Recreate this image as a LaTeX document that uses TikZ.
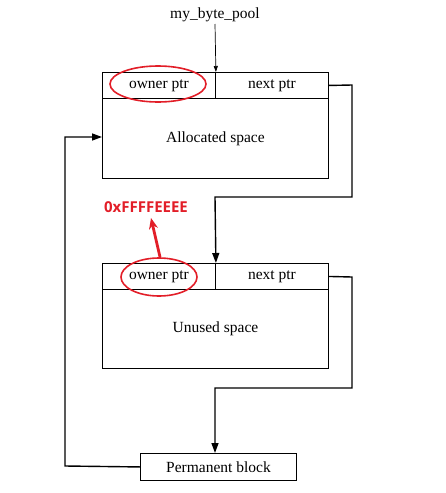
\documentclass[tikz,border=0pt]{standalone}
\usepackage{fontspec}
\setmainfont{Liberation Serif}
\newfontfamily\redfont{Open Sans}
\usetikzlibrary{arrows.meta}
\definecolor{hlred}{RGB}{226,30,40}
\begin{document}
\begin{tikzpicture}[x=1pt,y=-1pt,
  box/.style={draw, line width=0.9pt, inner sep=0pt},
  lbl/.style={font=\fontsize{15.5}{18}\selectfont},
  conn/.style={draw, line width=1.4pt, -{Triangle[length=10pt,width=7pt]}},
  hl/.style={draw=hlred, line width=1.6pt}]
\useasboundingbox (0,0) rectangle (446,493);
% block 1
\node[box, minimum width=113pt, minimum height=26pt, anchor=north west] (o1) at (102,72) {};
\node[box, minimum width=113pt, minimum height=26pt, anchor=north west] (n1) at (215,72) {};
\node[box, minimum width=226pt, minimum height=80pt, anchor=north west] (a1) at (102,98) {};
\node[lbl] at (o1.center) {owner ptr};
\node[lbl] at (n1.center) {next ptr};
\node[lbl] (t1) at (a1.center) {Allocated space};
% block 2
\node[box, minimum width=113pt, minimum height=26pt, anchor=north west] (o2) at (102,263) {};
\node[box, minimum width=113pt, minimum height=26pt, anchor=north west] (n2) at (215,263) {};
\node[box, minimum width=226pt, minimum height=79pt, anchor=north west] (a2) at (102,289) {};
\node[lbl] at (o2.center) {owner ptr};
\node[lbl] at (n2.center) {next ptr};
\node[lbl] (t2) at (a2.center) {Unused space};
% permanent block
\node[box, minimum width=156pt, minimum height=27pt, anchor=north west] (pb) at (140,453) {};
\node[lbl] at (pb.center) {Permanent block};
% pool label
\node[lbl, inner sep=1pt] (pool) at (215,15) {my\_byte\_pool};
\draw[line width=0.7pt, -{Triangle[length=6pt,width=4pt]}] (215,24) -- (o1.north east);
% ellipses
\draw[hl] (158,84) ellipse [x radius=48, y radius=18];
\draw[hl] (159,277) ellipse [x radius=38, y radius=19];
\node[text=hlred, font=\redfont\bfseries\fontsize{15}{17}\selectfont] (hex) at (146,207) {0xFFFFEEEE};
\coordinate (e2top) at (160,257);
\draw[hl, line width=2.8pt, -{Stealth[length=11pt,width=9pt]}] (e2top) -- (151,218);
% connectors
\coordinate (c1a) at (352,85);
\coordinate (c1b) at (352,197);
\coordinate (c1c) at (215,197);
\draw[conn] (n1.east) -- (c1a) -- (c1b) -- (c1c) -- (o2.north east);
\coordinate (c2a) at (352,277);
\coordinate (c2b) at (352,388);
\coordinate (c2c) at (215,388);
\draw[conn] (n2.east) -- (c2a) -- (c2b) -- (c2c) -- (c2c |- pb.north);
\coordinate (c3a) at (65,466);
\coordinate (c3b) at (65,137);
\draw[conn] (pb.west) -- (c3a) -- (c3b) -- (c3b -| a1.west);
\end{tikzpicture}
\end{document}
